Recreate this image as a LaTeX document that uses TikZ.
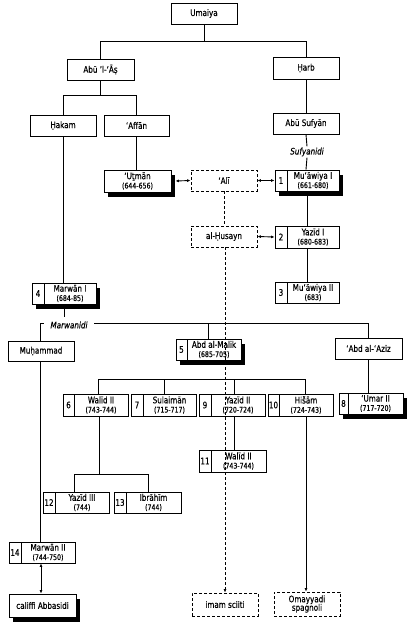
\documentclass[tikz,border=0pt]{standalone}
\usepackage{fontspec}
\setmainfont[FakeStretch=0.8,FakeBold=0.4]{DejaVu Sans}
\usetikzlibrary{shadows,arrows.meta}
\tikzset{
  box/.style={draw,fill=white,line width=0.9pt,inner sep=0pt,rectangle},
  dbox/.style={dash pattern=on 3pt off 2pt},
  shad/.style={drop shadow={shadow xshift=3.5pt,shadow yshift=-5pt,fill=black,opacity=1}},
  plain/.style={},
  lbl/.style={font=\fontsize{9}{9}\selectfont,align=center,inner sep=0pt},
  itl/.style={font=\fontsize{9}{9}\selectfont\itshape,inner sep=1pt},
  con/.style={line width=0.9pt},
  dcon/.style={con,dash pattern=on 3pt off 2pt},
  tip/.style={-{Latex[length=3.5pt,width=3pt]}},
  dtip/.style={{Latex[length=3.5pt,width=3pt]}-{Latex[length=3.5pt,width=3pt]}},
}
\newcommand\yrs[1]{\\[0.3pt]{\fontsize{7.8}{7.8}\selectfont(#1)}}
\newcommand\pbox[7]{%
  \node[box,#6,minimum width={(#4-#2)*1pt},minimum height={(#5-#3)*1pt}] (#1) at ({(#2+#4)/2},{(#3+#5)/2}) {};
  \node[lbl] (#1-t) at (#1) {#7};}
\newcommand\nbox[9]{%
  \node[box,#8,minimum width={(#4-#2)*1pt},minimum height={(#5-#3)*1pt}] (#1) at ({(#2+#4)/2},{(#3+#5)/2}) {};
  \draw[con] (#6,#3) -- (#6,#5);
  \node[lbl] (#1-n) at ({(#2+#6)/2},{(#3+#5)/2}) {#7};
  \node[lbl] (#1-t) at ({(#6+#4)/2},{(#3+#5)/2}) {#9};}
\begin{document}
\begin{tikzpicture}[x={(1pt,0)},y={(0,-1pt)}]
\useasboundingbox[fill=white] (0,0) rectangle (411,627);
% plain boxes
\pbox{umaiya}{171}{3}{237}{24}{plain}{Umaiya}
\pbox{abulas}{67}{59}{134}{80}{plain}{Abū ’l-‘Āṣ}
\pbox{harb}{273}{57}{339}{79}{plain}{Ḥarb}
\pbox{hakam}{30}{115}{96}{136}{plain}{Ḥakam}
\pbox{affan}{104}{115}{169}{136}{plain}{‘Affān}
\pbox{abusufyan}{273}{113}{339}{134}{plain}{Abū Sufyān}
\node[itl] (sufy) at (307,152) {Sufyanidi};
\pbox{uthman}{104}{170}{171}{192}{shad}{‘Uṯmān\yrs{644-656}}
\pbox{ali}{191}{170}{257}{191}{dbox}{‘Alī}
\nbox{muawiya1}{275}{170}{339}{191}{287}{1}{shad}{Mu‘āwiya I\yrs{661-680}}
\pbox{husayn}{191}{226}{257}{247}{dbox}{al-Ḥusayn}
\nbox{yazid1}{275}{226}{339}{248}{287}{2}{plain}{Yazīd I\yrs{680-683}}
\nbox{muawiya2}{275}{282}{339}{303}{287}{3}{plain}{Mu‘āwiya II\yrs{683}}
\nbox{marwan1}{32}{283}{96}{304}{44}{4}{shad}{Marwān I\yrs{684-85}}
\node[itl] (marw) at (69,325) {Marwanidi};
\pbox{muhammad}{8}{341}{74}{361}{plain}{Muḥammad}
\nbox{abdalmalik}{176}{339}{241}{360}{187}{5}{shad}{Abd al-Malik\yrs{685-705}}
\pbox{abdalaziz}{335}{338}{402}{359}{plain}{‘Abd al-‘Aziz}
\nbox{walid6}{63}{394}{128}{416}{74}{6}{plain}{Walīd II\yrs{743-744}}
\nbox{sulaiman}{131}{394}{196}{416}{143}{7}{plain}{Sulaimān\yrs{715-717}}
\nbox{yazid2}{199}{394}{265}{416}{211}{9}{plain}{Yazīd II\yrs{720-724}}
\nbox{hisam}{268}{394}{333}{416}{279}{10}{plain}{Hišām\yrs{724-743}}
\nbox{umar2}{339}{393}{403}{414}{348}{8}{shad}{‘Umar II\yrs{717-720}}
\nbox{walid11}{199}{450}{266}{472}{211}{11}{plain}{Walīd II\yrs{743-744}}
\nbox{yazid3}{43}{492}{109}{513}{55}{12}{plain}{Yazīd III\yrs{744}}
\nbox{ibrahim}{114}{492}{181}{513}{126}{13}{plain}{Ibrāhīm\yrs{744}}
\nbox{marwan2}{9}{542}{75}{563}{21}{14}{plain}{Marwān II\yrs{744-750}}
\pbox{abbasidi}{9}{594}{76}{617}{shad}{califfi Abbasidi}
\pbox{imam}{192}{593}{258}{616}{dbox}{imam sciiti}
\pbox{omayyadi}{274}{592}{340}{616}{dbox}{Omayyadi\\[-0.5pt]spagnoli}
% connectors
\coordinate (b1) at (0,41);
\draw[con] (umaiya.south) -- (umaiya.south |- b1);
\draw[con] (abulas.north) |- (harb.north |- b1) -- (harb.north);
\coordinate (b2) at (0,95);
\draw[con] (abulas.south) -- (abulas.south |- b2);
\draw[con] (hakam.north) |- (affan.north |- b2) -- (affan.north);
\draw[con] (harb.south) -- (abusufyan.north);
\draw[con] (abusufyan.south) -- (sufy.north);
\draw[con] (sufy.south) -- (abusufyan.south |- muawiya1.north);
\draw[con] (hakam.south) -- (hakam.south |- marwan1.north);
\draw[con] (affan.south) -- (affan.south |- uthman.north);
\draw[con,dtip] ([xshift=4pt]uthman.east) -- (ali.west);
\draw[con,dtip] (ali.east) -- (muawiya1.west);
\draw[dcon] (ali.south) -- (husayn.north);
\draw[con,dtip] (husayn.east) -- (yazid1.west);
\draw[con] (muawiya1.south) -- (yazid1.north);
\draw[con] (yazid1.south) -- (muawiya2.north);
\coordinate (mb) at (0,323);
\draw[con] (marwan1.south) -- (marwan1.south |- 0,317);
\draw[con] (muhammad.north -| 40,0) |- (44,323);
\draw[con] (94,323) -- (abdalaziz.north |- mb) -- (abdalaziz.north);
\draw[con] (abdalmalik.north |- mb) -- (abdalmalik.north);
\coordinate (cb) at (0,379);
\draw[con] (walid6.north -| 98,0) |- (305,379) -- (hisam.north -| 305,0);
\draw[con] (sulaiman.north -| 164,0) -- (164,379);
\draw[con] (yazid2.north -| 234,0) -- (234,379);
\draw[con] (yazid2.south -| 234,0) -- (walid11.north -| 234,0);
\draw[con] (abdalaziz.south) -- (abdalaziz.south |- umar2.north);
\draw[con] (walid6.south -| 99,0) -- (99,474);
\draw[con] (yazid3.north -| 74,0) |- (148,474) -- (ibrahim.north -| 148,0);
\draw[con] (muhammad.south -| 40,0) -- (marwan2.north -| 40,0);
\draw[con,dtip] (marwan2.south -| 41,0) -- (abbasidi.north -| 41,0);
\draw[con,tip] (hisam.south -| 306,0) -- (omayyadi.north -| 306,0);
\draw[dcon,tip] (husayn.south -| 225,0) -- (imam.north -| 225,0);
\end{tikzpicture}
\end{document}
